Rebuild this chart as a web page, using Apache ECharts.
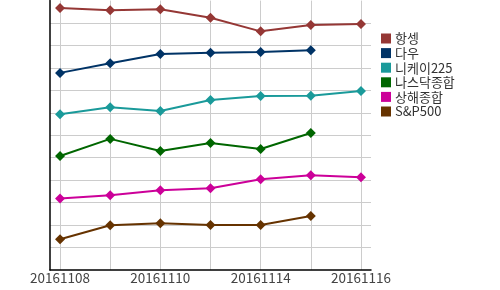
<!DOCTYPE html>
<html><head><meta charset="utf-8">
<script src="https://cdn.jsdelivr.net/npm/echarts@6/dist/echarts.min.js"></script>
<style>html,body{margin:0;padding:0;background:#fff}#c{width:500px;height:290px}</style>
</head><body><div id="c"></div>
<script>
const dates = ['20161108','20161109','20161110','20161111','20161114','20161115','20161116'];
const labelDates = ['20161108','20161110','20161114','20161116'];
const names = ['항셍','다우','니케이225','나스닥종합','상해종합','S&P500'];
const colors = ['#953735','#003366','#1a9a9a','#006600','#cc0099','#663300'];
const hangseng = [11.67, 11.57, 11.61, 11.24, 10.63, 10.91, 10.96];
const dow = [8.78, 9.21, 9.62, 9.68, 9.71, 9.79];
const nikkei = [6.94, 7.25, 7.08, 7.57, 7.75, 7.76, 7.97];
const nasdaq = [5.08, 5.84, 5.30, 5.66, 5.39, 6.10];
const shanghai = [3.19, 3.33, 3.55, 3.64, 4.04, 4.22, 4.13];
const sp500 = [1.37, 1.99, 2.08, 2.00, 2.00, 2.41];
const seriesValues = [hangseng, dow, nikkei, nasdaq, shanghai, sp500];

const idx = dates.map((d, i) => i);
const labelIdx = labelDates.map(d => dates.indexOf(d));
const chart = echarts.init(document.getElementById('c'), null, {renderer: 'canvas'});
chart.setOption({
  animation: false,
  color: colors,
  grid: {left: 50, right: 129, top: 0.6, bottom: 20, containLabel: false},
  legend: {
    orient: 'vertical', left: 381, top: 32, padding: 0, icon: 'rect', itemWidth: 10, itemHeight: 10, itemGap: 1.6,
    textStyle: {fontFamily: 'Noto Sans CJK KR', fontSize: 13, color: '#333', padding: [0,0,0,-1]},
    data: names
  },
  xAxis: {
    type: 'value', min: -0.2, max: 6.2,
    axisLine: {show: true, onZero: false, lineStyle: {color: '#000', width: 1.5}},
    axisTick: {show: false, customValues: idx},
    axisLabel: {customValues: labelIdx, formatter: v => dates[Math.round(v)], color: '#444', fontSize: 13.5, fontFamily: 'Noto Sans CJK KR', margin: 1},
    splitLine: {show: true, lineStyle: {color: '#cccccc', width: 1}}
  },
  yAxis: {
    type: 'value', min: 0, max: 12, interval: 1,
    axisLine: {show: true, onZero: false, lineStyle: {color: '#000', width: 1.5}},
    axisTick: {show: false}, axisLabel: {show: false},
    splitLine: {show: true, showMaxLine: false, showMinLine: false, lineStyle: {color: '#cccccc', width: 1}}
  },
  series: names.map((n, k) => ({
    name: n, type: 'line', symbol: 'diamond', symbolSize: 10,
    lineStyle: {width: 2, color: colors[k]},
    itemStyle: {color: colors[k]},
    data: seriesValues[k].map((v, i) => [idx[i], v])
  }))
});
</script></body></html>
